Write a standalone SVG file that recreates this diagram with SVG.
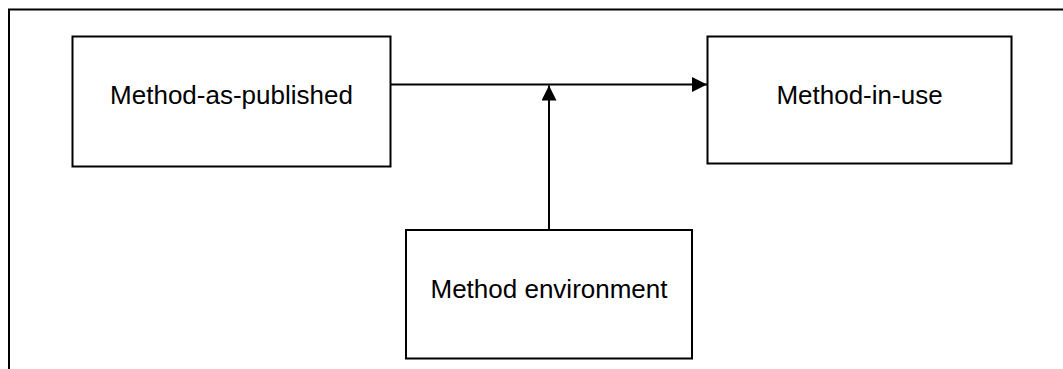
<svg xmlns="http://www.w3.org/2000/svg" width="1063" height="369" viewBox="0 0 1063 369">
  <defs>
    <style>
      .box { fill: #ffffff; stroke: #000000; stroke-width: 2; }
      .label { font-family: "Liberation Sans", Arial, sans-serif; font-size: 26px; fill: #000000; text-anchor: middle; }
      .link { fill: none; stroke: #000000; stroke-width: 2; }
      .frame { fill: none; stroke: #000000; stroke-width: 2; }
    </style>
    <marker id="arrow" viewBox="0 0 15 15" refX="15" refY="7.5" markerWidth="15" markerHeight="15" markerUnits="userSpaceOnUse" orient="auto">
      <path d="M0,0 L15,7.5 L0,15 Z" fill="#000000"/>
    </marker>
  </defs>
  <rect width="1063" height="369" fill="#ffffff"/>

  <!-- open frame: top and left edges -->
  <path class="frame" d="M9,369 L9,9.5 L1063,9.5"/>

  <g id="connectors">
    <line class="link" x1="390.5" y1="84.5" x2="707" y2="84.5" marker-end="url(#arrow)"/>
    <line class="link" x1="549" y1="230" x2="549" y2="85.5" marker-end="url(#arrow)"/>
  </g>

  <g id="method-as-published">
    <rect class="box" x="72.5" y="36.5" width="318" height="130"/>
    <text class="label" x="231.5" y="103.5">Method-as-published</text>
  </g>

  <g id="method-in-use">
    <rect class="box" x="707.5" y="36.5" width="304" height="127"/>
    <text class="label" x="859.5" y="104">Method-in-use</text>
  </g>

  <g id="method-environment">
    <rect class="box" x="406" y="230" width="286" height="128.5"/>
    <text class="label" x="549" y="297.5">Method environment</text>
  </g>
</svg>
